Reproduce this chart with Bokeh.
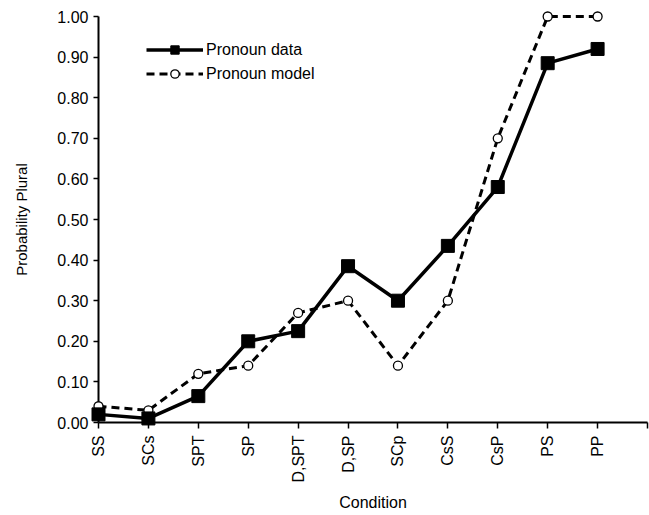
from bokeh.plotting import figure
from bokeh.models import FixedTicker, Legend, LegendItem, Range1d, PrintfTickFormatter
from bokeh.embed import file_html
from bokeh.resources import INLINE
import math

conditions = ["SS", "SCs", "SPT", "SP", "D,SPT", "D,SP", "SCp", "CsS", "CsP", "PS", "PP"]
pronoun_data = [0.02, 0.01, 0.065, 0.20, 0.225, 0.385, 0.30, 0.435, 0.58, 0.885, 0.92]
pronoun_model = [0.04, 0.03, 0.12, 0.14, 0.27, 0.30, 0.14, 0.30, 0.70, 1.00, 1.00]

xs = list(range(len(conditions)))

p = figure(width=649, height=515, output_backend="svg", toolbar_location=None,
           x_range=Range1d(0, len(conditions)), y_range=Range1d(0, 1.0),
           min_border_left=98, min_border_right=2, min_border_top=16, min_border_bottom=93)
p.outline_line_color = None
p.xgrid.visible = False
p.ygrid.visible = False

font = "Liberation Sans"

# model (dashed, open circles)
l2 = p.line(xs, pronoun_model, line_color="black", line_width=3, line_dash="8 5", level="overlay")
m2 = p.scatter(xs, pronoun_model, marker="circle", size=9, fill_color="white",
               line_color="black", line_width=1.3, level="overlay")
# data (solid, filled squares)
l1 = p.line(xs, pronoun_data, line_color="black", line_width=3.5, level="overlay")
m1 = p.scatter(xs, pronoun_data, marker="square", size=13, fill_color="black",
               line_color="black", level="overlay")

legend = Legend(items=[LegendItem(label="Pronoun data", renderers=[l1, m1]),
                       LegendItem(label="Pronoun model", renderers=[l2, m2])],
                location=(38, 328))
legend.glyph_width = 57
legend.glyph_height = 21
legend.spacing = 3
legend.label_standoff = 3
legend.padding = 10
legend.border_line_alpha = 0
legend.background_fill_alpha = 0
legend.label_text_font = font
legend.label_text_font_size = "16px"
legend.label_text_color = "black"
p.add_layout(legend)

# y axis
p.yaxis.ticker = FixedTicker(ticks=[i / 10 for i in range(11)])
p.yaxis.formatter = PrintfTickFormatter(format="%.2f")
p.yaxis.axis_label = "Probability Plural"
p.yaxis.axis_label_text_font = font
p.yaxis.axis_label_text_font_style = "normal"
p.yaxis.axis_label_text_font_size = "15px"
p.yaxis.axis_label_text_color = "black"
p.yaxis.axis_label_standoff = 24
p.yaxis.major_label_text_font = font
p.yaxis.major_label_text_font_size = "16px"
p.yaxis.major_label_text_color = "black"
p.yaxis.major_tick_out = 5
p.yaxis.major_tick_in = 0
p.yaxis.minor_tick_out = 0
p.yaxis.minor_tick_in = 0
p.yaxis.major_label_standoff = 5
p.yaxis.axis_line_width = 2
p.yaxis.major_tick_line_width = 1.5

# x axis
p.xaxis.ticker = FixedTicker(ticks=list(range(len(conditions) + 1)))
overrides = {i: c for i, c in enumerate(conditions)}
overrides[len(conditions)] = ""
p.xaxis.major_label_overrides = overrides
p.xaxis.major_label_orientation = math.pi / 2
p.xaxis.axis_label = "Condition"
p.xaxis.axis_label_text_font = font
p.xaxis.axis_label_text_font_style = "normal"
p.xaxis.axis_label_text_font_size = "16px"
p.xaxis.axis_label_text_color = "black"
p.xaxis.axis_label_standoff = 8
p.xaxis.major_label_text_font = font
p.xaxis.major_label_text_font_size = "16px"
p.xaxis.major_label_text_color = "black"
p.xaxis.major_tick_out = 6
p.xaxis.major_tick_in = 0
p.xaxis.minor_tick_out = 0
p.xaxis.minor_tick_in = 0
p.xaxis.major_label_standoff = 7
p.xaxis.axis_line_width = 2
p.xaxis.major_tick_line_width = 1.5

open("out.html", "w").write(file_html(p, INLINE))
